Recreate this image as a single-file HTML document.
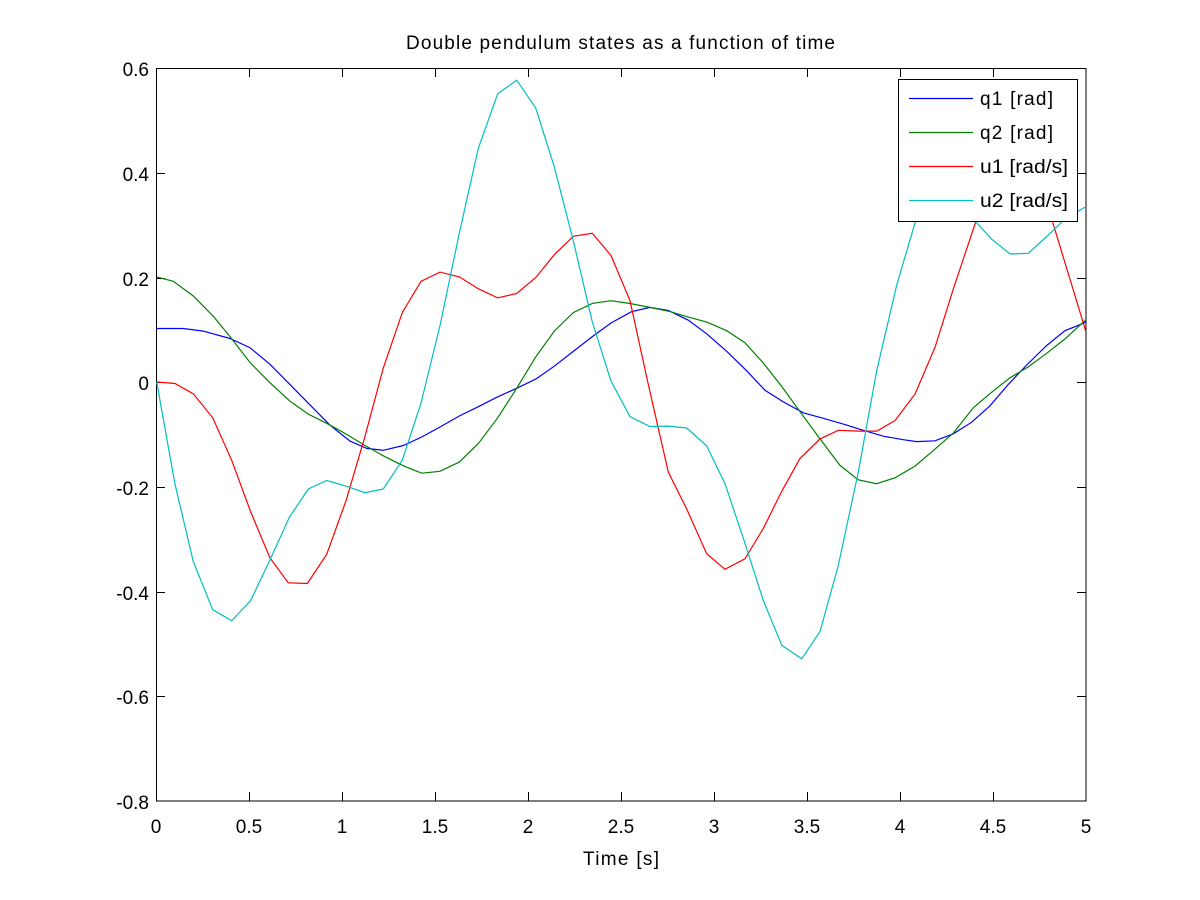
<!DOCTYPE html>
<html><head><meta charset="utf-8"><style>body{margin:0;background:#fff}svg{display:block}text{font-family:"Liberation Sans",sans-serif;fill:#000}</style></head><body>
<svg width="1200" height="900" viewBox="0 0 1200 900" xmlns="http://www.w3.org/2000/svg">
<rect width="1200" height="900" fill="#fff"/>
<text x="406" y="49" font-size="19" textLength="429" lengthAdjust="spacing">Double pendulum states as a function of time</text>
<g stroke="#000" stroke-width="1" fill="none">
<rect x="156.5" y="68.5" width="929.5" height="732.5"/>
<path d="M156.5 68v9M156.5 801v-9M249.5 68v9M249.5 801v-9M342.5 68v9M342.5 801v-9M435.5 68v9M435.5 801v-9M528.5 68v9M528.5 801v-9M621.5 68v9M621.5 801v-9M714.5 68v9M714.5 801v-9M807.5 68v9M807.5 801v-9M900.5 68v9M900.5 801v-9M993.5 68v9M993.5 801v-9M1086 68v9M1086 801v-9"/>
<path d="M156 68.5h9M1086 68.5h-9M156 173.5h9M1086 173.5h-9M156 278.5h9M1086 278.5h-9M156 382.5h9M1086 382.5h-9M156 487.5h9M1086 487.5h-9M156 592.5h9M1086 592.5h-9M156 696.5h9M1086 696.5h-9M156 801h9M1086 801h-9"/>
</g>
<g font-size="19" text-anchor="end">
<text x="149" y="76">0.6</text><text x="149" y="181">0.4</text><text x="149" y="286">0.2</text><text x="149" y="390">0</text><text x="149" y="495">-0.2</text><text x="149" y="600">-0.4</text><text x="149" y="704">-0.6</text><text x="149" y="809">-0.8</text>
</g>
<g font-size="19" text-anchor="middle">
<text x="156" y="833">0</text><text x="249" y="833">0.5</text><text x="342" y="833">1</text><text x="435" y="833">1.5</text><text x="528" y="833">2</text><text x="621" y="833">2.5</text><text x="714" y="833">3</text><text x="807" y="833">3.5</text><text x="900" y="833">4</text><text x="993" y="833">4.5</text><text x="1086" y="833">5</text>
</g>
<text x="583" y="865" font-size="19" textLength="76" lengthAdjust="spacing">Time [s]</text>
<g fill="none" stroke-width="1.2">
<polyline stroke="#0000ff" points="156.7,328.5 183.3,328.5 203.3,331.1 230,338.5 250,347.7 270,364.3 290,384.6 310,404.9 330,425.2 350,441.1 366.7,448.4 383.3,450.3 403.3,445.5 421.7,437 440,427 459.3,416 478.3,406.7 497.7,396.8 516.7,388.3 535.7,379.1 554.3,366.2 573.3,351.4 592.3,336.6 611,323 631.7,311.6 650,307.4 668.3,310.5 688.3,320.2 706.7,333.8 726.7,351.3 746.7,370.8 765,390.3 783.3,401.9 803.3,412.8 823.3,418.3 843.3,424.1 863.3,430.3 883.3,436.2 903.3,439.7 916.7,441.6 935,440.8 953.3,433.8 971.7,422.2 990,405.8 1008.3,384.4 1026.7,365 1046.7,345.5 1065,330.7 1083.3,323.3 1086,322"/>
<polyline stroke="#008000" points="156.7,276.9 173.3,281.3 193.3,296 213.3,316.3 230,336.6 250,362.5 270,382.8 290,401.2 308.3,414.1 326.7,423.3 346.7,434.4 365,445.5 383.3,455.8 403.3,465.8 421.7,473.2 440,471.3 459.3,462.1 478.3,443.6 497.7,417.8 516.7,388.3 535.7,356.9 554.3,331.1 573.3,312.6 592.3,303.4 611,300.7 630,303.5 650,307.4 670,311.6 688.3,317.1 706.7,322.1 726.7,330.7 745,342.8 763.3,363 781.7,386.4 800,411.7 820,438.9 840,465.4 858.3,479.8 876.7,483.7 895,477.8 915,466.1 933.3,450.6 953.3,433.1 973.3,407.8 991.7,392.2 1010,377.8 1028.3,366.9 1046.7,353.3 1065,338.9 1083.3,322.1 1086,320"/>
<polyline stroke="#ff0000" points="156.7,382 175,383.5 193.3,393.8 212.7,417.8 231.7,460.3 250.7,511.9 270,558 288.3,582.8 307.3,583.5 326.7,554.3 346,500.8 365,436.3 383.3,368 402.3,312.6 421,281.3 440,272.1 459.3,276.9 478.3,288.7 497.7,297.9 516.7,293.5 535.7,277.6 554.3,254.7 573.3,236.3 592.3,233.3 611,255.5 630,300.7 648.3,384.4 668.3,472 686.7,509 706.7,553.7 725,569.3 745,558.8 763.3,528.4 781.7,491.4 800,458.4 820,438.9 838.3,430.3 858.3,431.1 876.7,431.1 895,420.6 915,394.1 935,347.4 953.3,289.1 976.7,219 993.3,191.8 1013.3,172.3 1033.3,187.9 1051.7,219 1086,331.9"/>
<polyline stroke="#00bfbf" points="156.7,382 175,484.2 193.3,561.7 212.7,609.7 231.7,620.8 250.7,600.5 270,559.9 289.3,517.4 308.3,489 326.7,480.5 346,486.1 365,492.7 383.3,489 402.3,460.2 421,403.1 440,325.6 459.3,233.3 478.3,148.4 497.7,93.8 516.7,80.2 535.7,107.9 554.3,166.9 573.3,240.7 592.3,321.9 611,381 630,416.7 650,426.5 668.3,426.1 686.7,428 706.7,445.9 725,483.7 743.3,538.2 763.3,600.4 781.7,645.2 801.7,658.8 820,631.6 838.3,565.4 858.3,472 876.7,370.8 896.7,285.2 915,222.9 940,180 960,190 976.7,222.9 991.7,239.2 1010,254 1028.3,253.3 1046.7,236.5 1065,219 1086,206.6"/>
</g>
<rect x="898.5" y="79.5" width="179" height="142" fill="#fff" stroke="#000" stroke-width="1"/>
<g stroke-width="1.2">
<line x1="909" y1="98.5" x2="973" y2="98.5" stroke="#0000ff"/>
<line x1="909" y1="132.5" x2="973" y2="132.5" stroke="#008000"/>
<line x1="909" y1="166.5" x2="973" y2="166.5" stroke="#ff0000"/>
<line x1="909" y1="200.5" x2="973" y2="200.5" stroke="#00bfbf"/>
</g>
<g font-size="19">
<text x="980" y="105" textLength="73" lengthAdjust="spacing">q1 [rad]</text>
<text x="980" y="139" textLength="73" lengthAdjust="spacing">q2 [rad]</text>
<text x="980" y="173" textLength="88" lengthAdjust="spacingAndGlyphs">u1 [rad/s]</text>
<text x="980" y="207" textLength="88" lengthAdjust="spacingAndGlyphs">u2 [rad/s]</text>
</g>
</svg>
</body></html>
